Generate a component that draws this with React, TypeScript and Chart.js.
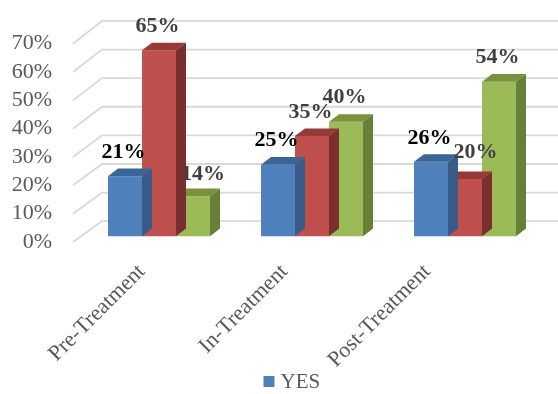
import { useEffect, useRef } from "react";
import { Chart, registerables } from "chart.js";

Chart.register(...registerables);

// ---- data ----
const categories = ["Pre-Treatment", "In-Treatment", "Post-Treatment"];
const seriesNames = ["YES", "Series 2", "Series 3"];
const seriesBlue = [21, 25, 26];
const seriesRed = [65, 35, 20];
const seriesGreen = [14, 40, 54];
const tickValues = [0, 10, 20, 30, 40, 50, 60, 70];

// ---- styles ----
const frontColors = ["#4F81BD", "#C0504D", "#9BBB59"];
const topColors = ["#3B6595", "#96393A", "#77933C"];
const sideColors = ["#375C88", "#7A2E2D", "#66803A"];
const labelColors = ["#000000", "#404040", "#404040"];
const SERIF = "'Times New Roman', 'Liberation Serif', serif";
const DEPTH_X = 10;
const DEPTH_Y = -7.6;

const gridPlugin = {
  id: "wallGrid",
  beforeDatasetsDraw(chart: any) {
    const yt = chart.scales.yt;
    const yb = chart.scales.y;
    const left = chart.chartArea.left;
    const ctx = chart.ctx;
    ctx.save();
    ctx.strokeStyle = "#D9D9D9";
    ctx.lineWidth = 1.8;
    tickValues.forEach((v) => {
      const yf = yt.getPixelForValue(v);
      const ybk = yb.getPixelForValue(v) - 15;
      ctx.beginPath();
      ctx.moveTo(left - 9.5, yf);
      ctx.lineTo(left + 19.5, ybk);
      ctx.lineTo(chart.width, ybk);
      ctx.stroke();
    });
    ctx.restore();
  },
};

const boxPlugin = {
  id: "box3d",
  afterDatasetDraw(chart: any, args: any) {
    const i = args.index;
    const meta = args.meta;
    const ctx = chart.ctx;
    ctx.save();
    meta.data.forEach((bar: any) => {
      const { x, y, base, width } = bar.getProps(["x", "y", "base", "width"], true);
      const l = x - width / 2;
      const r = x + width / 2;
      // top face
      ctx.fillStyle = topColors[i];
      ctx.beginPath();
      ctx.moveTo(l, y);
      ctx.lineTo(r, y);
      ctx.lineTo(r + DEPTH_X, y + DEPTH_Y);
      ctx.lineTo(l + DEPTH_X, y + DEPTH_Y);
      ctx.closePath();
      ctx.fill();
      // side face
      ctx.fillStyle = sideColors[i];
      ctx.beginPath();
      ctx.moveTo(r, y);
      ctx.lineTo(r + DEPTH_X, y + DEPTH_Y);
      ctx.lineTo(r + DEPTH_X, base + DEPTH_Y);
      ctx.lineTo(r, base);
      ctx.closePath();
      ctx.fill();
    });
    ctx.restore();
  },
};

const labelNudge: Record<string, [number, number]> = {
  "2-0": [11.5, 2],
  "1-2": [12, -3],
};

const labelPlugin = {
  id: "valueLabels",
  afterDatasetsDraw(chart: any) {
    const ctx = chart.ctx;
    ctx.save();
    ctx.font = `bold 22px ${SERIF}`;
    ctx.textAlign = "center";
    ctx.textBaseline = "middle";
    chart.data.datasets.forEach((ds: any, i: number) => {
      const meta = chart.getDatasetMeta(i);
      meta.data.forEach((bar: any, j: number) => {
        const { x, y } = bar.getProps(["x", "y"], true);
        const n = labelNudge[`${i}-${j}`] || [0, 0];
        ctx.fillStyle = labelColors[i];
        ctx.fillText(`${ds.data[j]}%`, x - 1.5 + n[0], y - 24 + n[1]);
      });
    });
    ctx.restore();
  },
};

const legendPlugin = {
  id: "simpleLegend",
  afterDraw(chart: any) {
    const ctx = chart.ctx;
    const ds = chart.data.datasets[0];
    ctx.save();
    ctx.fillStyle = ds.backgroundColor;
    ctx.fillRect(263.5, 376, 11, 11);
    ctx.fillStyle = "#595959";
    ctx.font = `21px ${SERIF}`;
    ctx.textAlign = "left";
    ctx.textBaseline = "middle";
    ctx.fillText(ds.label, 280.5, 382);
    ctx.restore();
  },
};

export default function App() {
  const ref = useRef<HTMLCanvasElement>(null);
  useEffect(() => {
    const dataSets = [seriesBlue, seriesRed, seriesGreen].map((d, i) => ({
      label: seriesNames[i],
      data: d,
      backgroundColor: frontColors[i],
      borderWidth: 0,
      categoryPercentage: 0.667,
      barPercentage: 1,
      clip: false as any,
    }));
    const chart = new Chart(ref.current!, {
      type: "bar",
      data: { labels: categories, datasets: dataSets },
      options: {
        responsive: false,
        animation: false,
        layout: { padding: { top: 36.5, right: 16.5, left: 0, bottom: 0 } },
        plugins: { legend: { display: false }, tooltip: { enabled: false } },
        scales: {
          x: { type: "category", display: false, offset: true },
          y: { type: "linear", display: false, min: -2.0236, max: 67.285, beginAtZero: false },
          yt: {
            type: "linear",
            position: "left",
            min: 0,
            max: 70,
            grid: { display: false, drawTicks: false },
            border: { display: false },
            ticks: {
              stepSize: 10,
              autoSkip: false,
              padding: 30.5,
              color: "#595959",
              font: { family: SERIF, size: 22 },
              callback: (v: any) => `${v}%`,
            },
            afterFit: (s: any) => {
              s.width = 82.5;
            },
          },
          xl: {
            type: "linear",
            position: "bottom",
            offset: false,
            min: -0.4156,
            max: 2.801,
            grid: { display: false, drawTicks: false, offset: false },
            border: { display: false },
            ticks: {
              autoSkip: false,
              minRotation: 45,
              maxRotation: 45,
              padding: 17,
              color: "#595959",
              font: { family: SERIF, size: 22 },
              callback: (v: any) => categories[v] ?? "",
            },
            afterBuildTicks: (s: any) => {
              s.ticks = categories.map((_, i) => ({ value: i }));
            },
            afterFit: (s: any) => {
              s.height = 152;
            },
          },
        } as any,
      },
      plugins: [gridPlugin, boxPlugin, labelPlugin, legendPlugin],
    });
    return () => chart.destroy();
  }, []);
  return (
    <div style={{ position: "fixed", left: 0, top: 0, width: 558, height: 394, background: "#fff" }}>
      <canvas ref={ref} width={558} height={394} style={{ display: "block", width: 558, height: 394 }} />
    </div>
  );
}
